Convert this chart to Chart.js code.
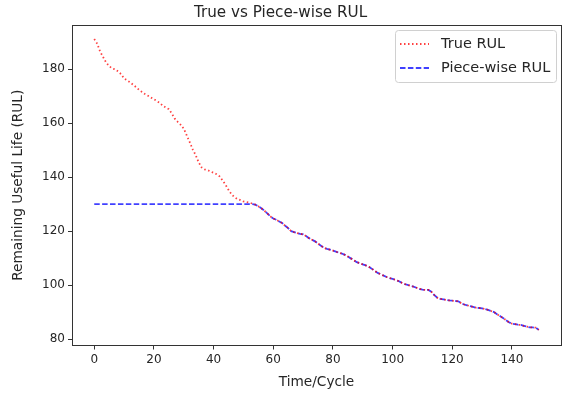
<!DOCTYPE html>
<html><head><meta charset="utf-8">
<script src="https://cdn.jsdelivr.net/npm/chart.js@4.4.1/dist/chart.umd.min.js"></script>
<style>html,body{margin:0;padding:0;background:#fff}#wrap{width:563px;height:397px}</style>
</head><body><div id="wrap"><canvas id="c" width="563" height="397"></canvas></div>
<script>
const cycles = Array.from({length:150},(_,i)=>i);
const trueRUL = [
191.2,189.5,186.5,184.5,182.5,181.2,180.3,180.0,179.2,178.2,
176.6,175.9,175.2,174.3,173.4,172.4,171.6,170.8,170.2,169.5,
168.9,168.2,167.5,166.5,165.8,165.2,163.6,161.7,160.5,159.4,
158.0,155.5,153.0,150.3,148.2,145.5,143.6,142.9,142.6,142.1,
141.6,141.1,140.3,138.8,137.2,135.3,133.7,132.6,131.9,131.5,
131.0,130.8,130.6,130.2,129.8,129.2,128.5,127.6,126.6,125.5,
124.7,124.2,123.6,123.0,122.0,121.1,120.0,119.6,119.3,119.0,
118.8,118.2,117.4,116.8,116.2,115.4,114.6,113.8,113.4,113.1,
112.8,112.4,112.0,111.7,111.2,110.6,109.9,109.2,108.5,108.1,
107.7,107.3,106.8,106.1,105.3,104.5,104.0,103.5,103.0,102.6,
102.3,101.9,101.5,100.9,100.4,100.1,99.7,99.4,99.0,98.6,
98.3,98.2,98.2,97.5,96.3,95.3,94.9,94.7,94.5,94.3,
94.2,94.1,94.0,93.3,92.8,92.5,92.2,91.9,91.6,91.5,
91.4,91.1,90.8,90.4,90.0,89.2,88.5,87.8,87.0,86.2,
85.7,85.5,85.3,85.2,84.9,84.6,84.3,84.3,84.2,83.4];
const pieceRUL = [
130,130,130,130,130,130,130,130,130,130,
130,130,130,130,130,130,130,130,130,130,
130,130,130,130,130,130,130,130,130,130,
130,130,130,130,130,130,130,130,130,130,
130,130,130,130,130,130,130,130,130,130,
130,130,130,130,129.8,129.2,128.5,127.6,126.6,125.5,
124.7,124.2,123.6,123.0,122.0,121.1,120.0,119.6,119.3,119.0,
118.8,118.2,117.4,116.8,116.2,115.4,114.6,113.8,113.4,113.1,
112.8,112.4,112.0,111.7,111.2,110.6,109.9,109.2,108.5,108.1,
107.7,107.3,106.8,106.1,105.3,104.5,104.0,103.5,103.0,102.6,
102.3,101.9,101.5,100.9,100.4,100.1,99.7,99.4,99.0,98.6,
98.3,98.2,98.2,97.5,96.3,95.3,94.9,94.7,94.5,94.3,
94.2,94.1,94.0,93.3,92.8,92.5,92.2,91.9,91.6,91.5,
91.4,91.1,90.8,90.4,90.0,89.2,88.5,87.8,87.0,86.2,
85.7,85.5,85.3,85.2,84.9,84.6,84.3,84.3,84.2,83.4];
const xTicks = [0,20,40,60,80,100,120,140];
const yTicks = [80,100,120,140,160,180];
const seriesNames = ['True RUL','Piece-wise RUL'];
const titleText = 'True vs Piece-wise RUL';
const xTitle = 'Time/Cycle';
const yTitle = 'Remaining Useful Life (RUL)';

const FONT = "'DejaVu Sans', sans-serif";
const TXT = '#262626';
const RED = 'rgba(255,0,0,0.75)';
const BLUE = 'rgba(0,0,255,0.75)';

const framePlugin = {
  id:'frame',
  afterDraw(chart){
    const {ctx, chartArea:a} = chart;
    ctx.save();
    ctx.strokeStyle = '#333'; ctx.lineWidth = 1;
    ctx.strokeRect(Math.round(a.left)+0.5, Math.round(a.top)+0.5, Math.round(a.right-a.left), Math.round(a.bottom-a.top));
    const lx=395.5, ly=30.5, lw=161, lh=52;
    ctx.fillStyle='rgba(255,255,255,0.85)';
    ctx.strokeStyle='#d0d0d0';
    ctx.beginPath();
    if(ctx.roundRect) ctx.roundRect(lx,ly,lw,lh,3); else ctx.rect(lx,ly,lw,lh);
    ctx.fill(); ctx.stroke();
    const items=[{c:RED,d:[1.5,2.5],t:seriesNames[0],y:44},{c:BLUE,d:[5.5,2.4],t:seriesNames[1],y:68}];
    ctx.font = "14.5px "+FONT; ctx.textBaseline='middle'; ctx.textAlign='left';
    items.forEach(it=>{
      ctx.strokeStyle=it.c; ctx.lineWidth=1.8; ctx.setLineDash(it.d);
      ctx.beginPath(); ctx.moveTo(400,it.y); ctx.lineTo(429,it.y); ctx.stroke();
      ctx.setLineDash([]);
      ctx.fillStyle=TXT; ctx.fillText(it.t,441,it.y);
    });
    ctx.restore();
  }
};

new Chart(document.getElementById('c'),{
  type:'line',
  data:{datasets:[
    {label:seriesNames[0],data:cycles.map((x,i)=>({x,y:trueRUL[i]})),borderColor:RED,borderWidth:1.8,borderDash:[1.5,2.5],pointRadius:0,tension:0,fill:false},
    {label:seriesNames[1],data:cycles.map((x,i)=>({x,y:pieceRUL[i]})),borderColor:BLUE,borderWidth:1.8,borderDash:[5.5,2.4],pointRadius:0,tension:0,fill:false}
  ]},
  options:{
    responsive:false,animation:false,devicePixelRatio:1,
    layout:{padding:{left:0,right:2,top:0,bottom:0}},
    plugins:{
      legend:{display:false},tooltip:{enabled:false},
      title:{display:true,text:titleText,color:TXT,font:{family:FONT,size:15.2,weight:'normal'},padding:{top:3.5,bottom:3.3}}
    },
    scales:{
      x:{type:'linear',min:-7.45,max:156.45,
        afterBuildTicks(s){s.ticks=xTicks.map(v=>({value:v}));},
        afterFit(s){s.height=51.5;},
        grid:{drawOnChartArea:false,drawTicks:true,tickLength:4,color:'#333'},
        border:{display:false},
        ticks:{color:TXT,font:{family:FONT,size:12},padding:3,maxRotation:0},
        title:{display:true,text:xTitle,color:TXT,font:{family:FONT,size:13.7},padding:{top:2,bottom:6}}
      },
      y:{type:'linear',min:77.6,max:196.4,
        afterBuildTicks(s){s.ticks=yTicks.map(v=>({value:v}));},
        afterFit(s){s.width=72;},
        grid:{drawOnChartArea:false,drawTicks:true,tickLength:4,color:'#333'},
        border:{display:false},
        ticks:{color:TXT,font:{family:FONT,size:12},padding:3},
        title:{display:true,text:yTitle,color:TXT,font:{family:FONT,size:13.7},padding:{top:10,bottom:4}}
      }
    }
  },
  plugins:[framePlugin]
});
</script></body></html>
